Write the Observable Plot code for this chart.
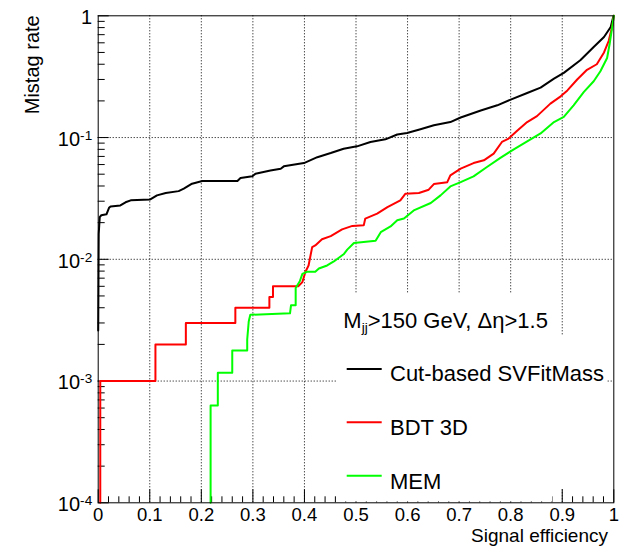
<!DOCTYPE html>
<html><head><meta charset="utf-8">
<script src="https://cdn.jsdelivr.net/npm/d3@7"></script>
<script src="https://cdn.jsdelivr.net/npm/@observablehq/plot@0.6"></script>
<style>html,body{margin:0;padding:0;background:#fff}#chart{width:625px;height:546px}</style>
</head><body><div id="chart"></div>
<script>
// ---- data ----
const seriesNames = ["Cut-based SVFitMass", "BDT 3D", "MEM"];
const seriesColors = ["#000000", "#ff0000", "#00ff00"];
const headerMain = "M", headerSub = "jj", headerRest = ">150 GeV, \u0394\u03b7>1.5";

const cutX = [0.000,0.001,0.003,0.006,0.016,0.021,0.024,0.043,0.053,0.063,0.101,0.114,0.131,0.156,0.166,0.182,0.202,0.270,0.276,0.299,0.305,0.334,0.354,0.360,0.399,0.425,0.451,0.476,0.502,0.528,0.557,0.580,0.599,0.625,0.651,0.683,0.703,0.742,0.774,0.800,0.832,0.858,0.884,0.903,0.935,0.961,0.981,0.994,0.999,1.000];
const cutY = [0.0026,0.0162,0.0222,0.0230,0.0234,0.0265,0.0272,0.0277,0.0294,0.0305,0.0310,0.0335,0.0350,0.0363,0.0380,0.0418,0.0440,0.0440,0.0465,0.0480,0.0505,0.0537,0.0555,0.0580,0.0617,0.0690,0.0746,0.0810,0.0847,0.0919,0.0967,0.106,0.109,0.117,0.126,0.134,0.146,0.167,0.184,0.205,0.232,0.257,0.305,0.340,0.431,0.554,0.670,0.810,0.980,1.000];

const bdtX = [0.004,0.004,0.111,0.111,0.170,0.170,0.266,0.266,0.332,0.332,0.339,0.339,0.388,0.396,0.402,0.408,0.415,0.421,0.434,0.451,0.473,0.493,0.515,0.518,0.541,0.561,0.586,0.596,0.622,0.641,0.651,0.677,0.683,0.703,0.728,0.748,0.767,0.783,0.796,0.812,0.832,0.851,0.877,0.897,0.910,0.929,0.948,0.967,0.981,0.990,0.997,1.000];
const bdtY = [0.0001,0.001,0.001,0.002,0.002,0.003,0.003,0.004,0.004,0.0049,0.0049,0.006,0.006,0.0065,0.0079,0.0089,0.0126,0.0130,0.0146,0.0155,0.0176,0.0188,0.0190,0.0216,0.0237,0.0268,0.0305,0.0346,0.0350,0.0373,0.0415,0.0430,0.0489,0.0555,0.0617,0.0650,0.0738,0.092,0.098,0.113,0.134,0.150,0.190,0.218,0.244,0.300,0.360,0.400,0.500,0.620,0.820,1.000];

const memX = [0.218,0.218,0.232,0.232,0.260,0.260,0.289,0.289,0.292,0.295,0.372,0.374,0.383,0.383,0.391,0.396,0.405,0.421,0.428,0.444,0.457,0.476,0.483,0.496,0.538,0.548,0.567,0.580,0.593,0.612,0.645,0.664,0.683,0.703,0.728,0.754,0.780,0.806,0.832,0.858,0.884,0.903,0.922,0.942,0.961,0.974,0.987,0.992,0.997,1.000];
const memY = [0.0001,0.00063,0.00063,0.00117,0.00117,0.00178,0.00178,0.0022,0.0031,0.0035,0.0036,0.0042,0.0042,0.0058,0.0066,0.0076,0.0079,0.0079,0.0084,0.0089,0.0096,0.0110,0.0120,0.0136,0.0142,0.0167,0.0186,0.0209,0.0216,0.0252,0.0290,0.0335,0.0397,0.0430,0.0480,0.0573,0.068,0.080,0.093,0.108,0.134,0.148,0.184,0.237,0.290,0.350,0.450,0.590,0.810,1.000];

const xTickValues = [0,0.1,0.2,0.3,0.4,0.5,0.6,0.7,0.8,0.9,1];
const xTickLabels = ["0","0.1","0.2","0.3","0.4","0.5","0.6","0.7","0.8","0.9","1"];
const yTickValues = [1e-4,1e-3,1e-2,1e-1,1];
const yTickLabels = ["10^-4","10^-3","10^-2","10^-1","1"];
const xGridValues = [0.1,0.2,0.3,0.4,0.5,0.6,0.7,0.8,0.9];
const yGridValues = [1e-3,1e-2,1e-1];
const xTitle = "Signal efficiency", yTitle = "Mistag rate";

// ---- layout ----
const FONT = "'Liberation Sans', Arial, Helvetica, sans-serif";
const W = 625, H = 546;
const M = {left: 97.7, right: 11.7, top: 15.3, bottom: 43.7};
const PW = W - M.left - M.right, PH = H - M.top - M.bottom;

const xMinor = d3.range(0, 50).map(i => i * 0.02).filter(v => Math.abs(v * 10 - Math.round(v * 10)) > 1e-6);
const yMinor = [];
for (const dec of [1e-4, 1e-3, 1e-2, 1e-1]) for (let k = 2; k <= 9; k++) yMinor.push(dec * k);

const rows = (xs, ys) => xs.map((x, i) => ({x, y: ys[i]}));

const chart = Plot.plot({
  width: W, height: H,
  marginLeft: M.left, marginRight: M.right, marginTop: M.top, marginBottom: M.bottom,
  style: {fontFamily: FONT, background: "#fff", color: "#000"},
  x: {domain: [0, 1]},
  y: {type: "log", domain: [1e-4, 1]},
  marks: [
    Plot.ruleY(yGridValues, {stroke: "#000", strokeDasharray: "1,2", strokeWidth: 1}),
    Plot.ruleX(xGridValues, {stroke: "#000", strokeDasharray: "1,2", strokeWidth: 1}),
    Plot.tickY(yMinor, {y: d => d, insetRight: PW - 7, stroke: "#000"}),
    Plot.tickY(yTickValues, {y: d => d, insetRight: PW - 11, stroke: "#000"}),
    Plot.tickX(xMinor, {x: d => d, insetTop: PH - 6, stroke: "#000"}),
    Plot.tickX(xTickValues, {x: d => d, insetTop: PH - 13, stroke: "#000"}),
    Plot.axisX({ticks: xTickValues, tickFormat: d => xTickLabels[xTickValues.indexOf(d)], tickSize: 0, tickPadding: 5.5, fontSize: 18.5, label: null}),
    Plot.axisY({ticks: yTickValues, tickFormat: d => yTickLabels[yTickValues.indexOf(d)], tickSize: 0, tickPadding: 6, fontSize: 20, dy: 2, label: null}),
    Plot.line(rows(cutX, cutY), {x: "x", y: "y", stroke: seriesColors[0], strokeWidth: 2, curve: "linear"}),
    Plot.line(rows(bdtX, bdtY), {x: "x", y: "y", stroke: seriesColors[1], strokeWidth: 2, curve: "linear"}),
    Plot.line(rows(memX, memY), {x: "x", y: "y", stroke: seriesColors[2], strokeWidth: 2, curve: "linear"}),
    Plot.frame({stroke: "#000", strokeWidth: 1})
  ]
});
document.getElementById("chart").appendChild(chart);

const NS = "http://www.w3.org/2000/svg";
const svgEl = chart.tagName.toLowerCase() === "svg" ? chart : chart.querySelector("svg");
const svg = d3.select(svgEl);
// superscript exponents on y tick labels
svg.selectAll('g[aria-label="y-axis tick label"] text').each(function () {
  const t = this.textContent;
  if (t.includes("^")) {
    const [b, e] = t.split("^");
    this.textContent = b;
    d3.select(this).append("tspan").attr("dy", "-0.45em").attr("font-size", "0.68em").text(e);
  }
});

// legend box (white, no border)
const leg = svg.append("g").attr("font-family", FONT).attr("text-anchor", "start");
function addRect(x, y, w, h) {
  const r = document.createElementNS(NS, "rect");
  r.setAttribute("x", x); r.setAttribute("y", y); r.setAttribute("width", w); r.setAttribute("height", h);
  r.setAttribute("fill", "#ffffff"); r.setAttribute("stroke", "none");
  r.style.fill = "#ffffff";
  leg.node().appendChild(r);
}
addRect(337, 294, 215, 207.5);
addRect(337, 336, 269, 153);
const LFS = 22;
const hdr = leg.append("text").attr("x", 343.3).attr("y", 328.3).attr("font-size", LFS).attr("fill", "#000");
hdr.append("tspan").text(headerMain);
hdr.append("tspan").attr("dy", "0.3em").attr("font-size", "0.62em").text(headerSub);
hdr.append("tspan").attr("dy", "-0.186em").text(headerRest);
const lineY = [369, 422.3, 475.7];
const textY = [380.7, 435, 489.3];
seriesNames.forEach((name, i) => {
  leg.append("line").attr("x1", 346.7).attr("x2", 381.7).attr("y1", lineY[i]).attr("y2", lineY[i])
    .attr("stroke", seriesColors[i]).attr("stroke-width", 2);
  leg.append("text").attr("x", 390).attr("y", textY[i]).attr("font-size", LFS).attr("fill", "#000").text(name);
});

// axis titles
svg.append("text").attr("transform", "translate(38.5,15.3) rotate(-90)").attr("text-anchor", "end")
  .attr("font-family", FONT).attr("font-size", 20).attr("fill", "#000").text(yTitle);
svg.append("text").attr("x", 608).attr("y", 541.5).attr("text-anchor", "end")
  .attr("font-family", FONT).attr("font-size", 19).attr("fill", "#000").text(xTitle);

// frame on top
svg.select('[aria-label="frame"]').raise();
</script>
</body></html>
